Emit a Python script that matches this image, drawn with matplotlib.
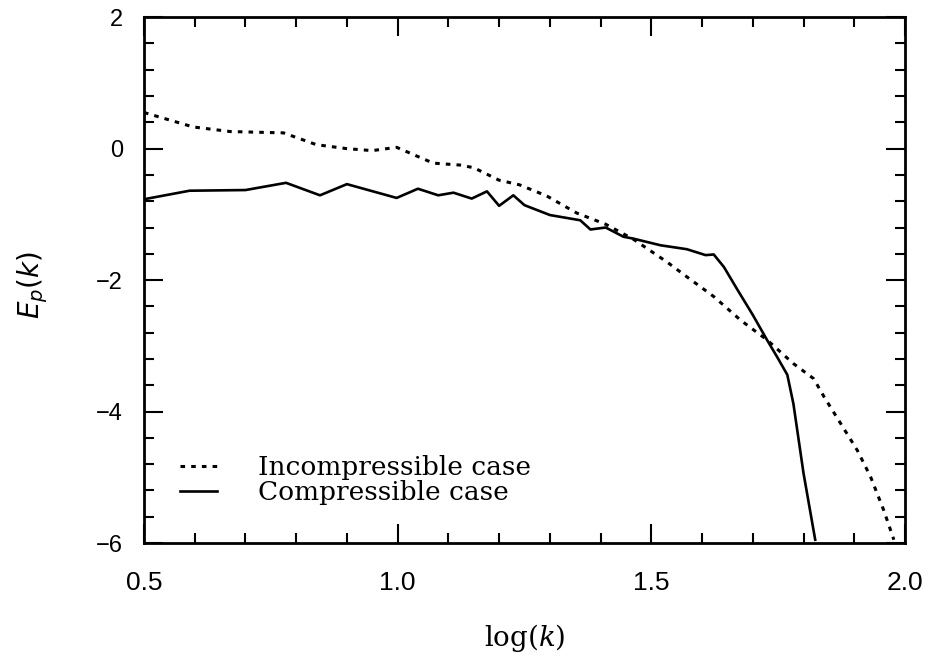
import numpy as np
import matplotlib
matplotlib.use("Agg")
import matplotlib.pyplot as plt
from matplotlib.ticker import MultipleLocator

# --- Data ---
inc_x = [0.50, 0.597, 0.67, 0.775, 0.84, 0.90, 0.95, 0.998, 1.07, 1.123, 1.15,
         1.20, 1.24, 1.294, 1.353, 1.41, 1.465, 1.53, 1.57, 1.623, 1.676,
         1.728, 1.78, 1.82, 1.84, 1.873, 1.906, 1.932, 1.958, 1.978]
inc_y = [0.55, 0.33, 0.26, 0.24, 0.06, 0.0, -0.03, 0.02, -0.22, -0.25, -0.29,
         -0.48, -0.55, -0.72, -0.98, -1.15, -1.38, -1.72, -1.95, -2.25, -2.61,
         -2.91, -3.27, -3.50, -3.77, -4.18, -4.59, -4.99, -5.50, -5.95]

comp_x = [0.50, 0.59, 0.70, 0.78, 0.847, 0.90, 0.998, 1.04, 1.08, 1.11, 1.146,
          1.176, 1.20, 1.228, 1.25, 1.30, 1.36, 1.38, 1.41, 1.445, 1.465,
          1.518, 1.57, 1.607, 1.623, 1.643, 1.67, 1.70, 1.728, 1.748, 1.768,
          1.78, 1.80, 1.823]
comp_y = [-0.77, -0.64, -0.63, -0.52, -0.71, -0.54, -0.75, -0.61, -0.71, -0.67,
          -0.76, -0.65, -0.87, -0.71, -0.86, -1.01, -1.09, -1.23, -1.20, -1.34,
          -1.37, -1.47, -1.53, -1.62, -1.61, -1.80, -2.15, -2.53, -2.91, -3.17,
          -3.44, -3.88, -4.94, -5.95]

labels = ["Incompressible case", "Compressible case"]
xticks = [0.5, 1.0, 1.5, 2.0]
xtick_labels = ["0.5", "1.0", "1.5", "2.0"]
yticks = [-6, -4, -2, 0, 2]
ytick_labels = ["\u22126", "\u22124", "\u22122", "0", "2"]

fig = plt.figure(figsize=(9.33, 6.61), dpi=100)
ax = fig.add_axes([0.1543, 0.1785, 0.8157, 0.7955])

ax.plot(inc_x, inc_y, color="black", lw=2.2, linestyle=(0, (1.5, 2.0)),
        label=labels[0])
ax.plot(comp_x, comp_y, color="black", lw=1.9, label=labels[1])

ax.set_xlim(0.5, 2.0)
ax.set_ylim(-6, 2)
ax.xaxis.set_minor_locator(MultipleLocator(0.1))
ax.yaxis.set_minor_locator(MultipleLocator(0.4))
ax.set_xticks(xticks, xtick_labels)
ax.set_yticks(yticks, ytick_labels)

ax.tick_params(which="both", direction="in", top=True, right=True,
               width=1.5, labelfontfamily="Liberation Sans")
ax.tick_params(which="major", length=14)
ax.tick_params(which="minor", length=7)
ax.tick_params(axis="x", labelsize=19, pad=20)
ax.tick_params(axis="y", labelsize=17, pad=15)
for sp in ax.spines.values():
    sp.set_linewidth(2)

ax.set_xlabel(r"$\mathrm{log}(k)$", fontsize=20, math_fontfamily="dejavuserif")
ax.xaxis.set_label_coords(0.5006, -0.15)
ax.set_ylabel("$E_p(k)$", fontsize=20)
ax.yaxis.set_label_coords(-0.124, 0.49)

leg = ax.legend(loc="lower left", bbox_to_anchor=(0.047, 0.072), frameon=False,
                borderpad=0, borderaxespad=0,
                handlelength=1.4, handletextpad=1.55, labelspacing=0.0,
                prop={"family": "DejaVu Serif", "size": 19})

fig.savefig("out.png", dpi=100)
